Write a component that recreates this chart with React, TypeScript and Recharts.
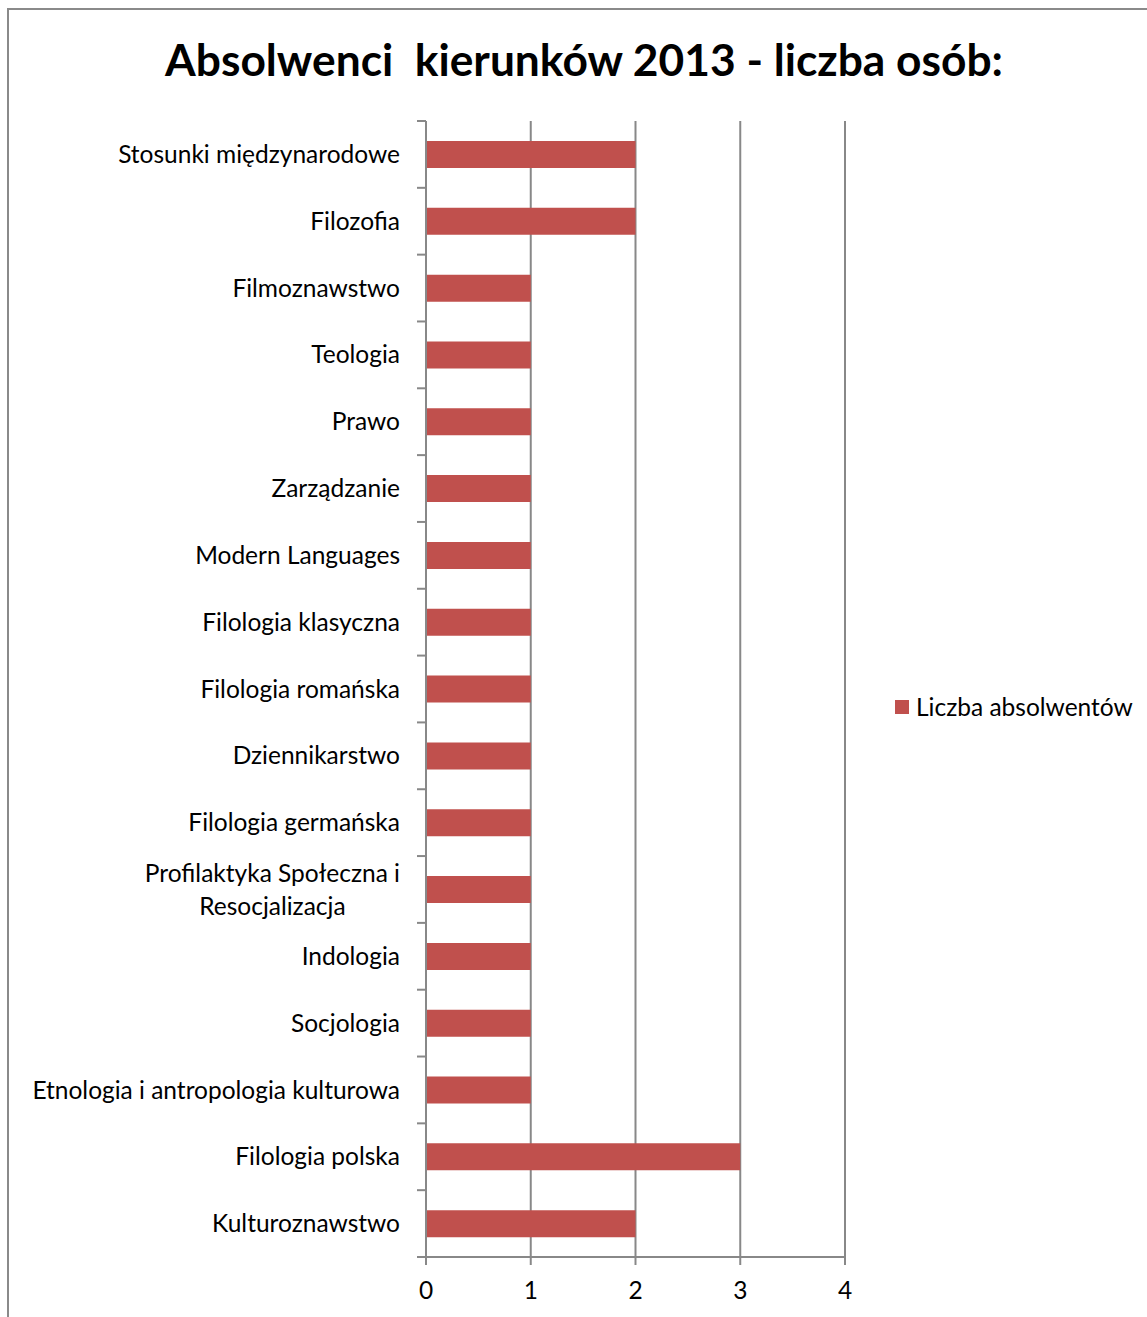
import { BarChart, Bar, XAxis, YAxis, CartesianGrid } from "recharts";

const categories = [
  "Stosunki międzynarodowe",
  "Filozofia",
  "Filmoznawstwo",
  "Teologia",
  "Prawo",
  "Zarządzanie",
  "Modern Languages",
  "Filologia klasyczna",
  "Filologia romańska",
  "Dziennikarstwo",
  "Filologia germańska",
  "Profilaktyka Społeczna i Resocjalizacja",
  "Indologia",
  "Socjologia",
  "Etnologia i antropologia kulturowa",
  "Filologia polska",
  "Kulturoznawstwo",
];
const graduates = [2, 2, 1, 1, 1, 1, 1, 1, 1, 1, 1, 1, 1, 1, 1, 3, 2];
const xTicks = [0, 1, 2, 3, 4];
const seriesName = "Liczba absolwentów";
const title = "Absolwenci  kierunków 2013 - liczba osób:";

const data = categories.map((name, i) => ({ name, value: graduates[i] }));

const FONT = "Lato, 'Open Sans', sans-serif";
const FS = 24.5;
const GRAY = "#888888";
const RED = "#C0504D";

const W = 1147;
const H = 1317;
const PLOT_TOP = 121;
const PLOT_BOTTOM = 1257;
const PLOT_LEFT = 426;
const PLOT_RIGHT = 845;
const BAND = (PLOT_BOTTOM - PLOT_TOP) / categories.length;

let ctx: CanvasRenderingContext2D | null = null;
const measure = (s: string) => {
  if (!ctx) ctx = document.createElement("canvas").getContext("2d");
  if (!ctx) return s.length * 11;
  ctx.font = `${FS}px ${FONT}`;
  return ctx.measureText(s).width;
};

// category label + boundary tick marks
const CategoryTick = (props: any) => {
  const { y, payload, index } = props;
  const label: string = payload.value;
  const textX = PLOT_LEFT - 26;
  let text;
  if (label.startsWith("Profilaktyka")) {
    const l1 = "Profilaktyka Społeczna i";
    const l2 = "Resocjalizacja";
    const w1 = measure(l1);
    const mid = textX - w1 / 2;
    text = (
      <text fontSize={FS} fontFamily={FONT} fill="#000">
        <tspan x={textX} y={y - 16.5} dy="0.35em" textAnchor="end">{l1}</tspan>
        <tspan x={mid} y={y + 16.5} dy="0.35em" textAnchor="middle">{l2}</tspan>
      </text>
    );
  } else {
    text = (
      <text x={textX} y={y} dy="0.35em" textAnchor="end" fontSize={FS} fontFamily={FONT} fill="#000">
        {label}
      </text>
    );
  }
  return (
    <g>
      <line x1={PLOT_LEFT - 9} x2={PLOT_LEFT} y1={y - BAND / 2} y2={y - BAND / 2} stroke={GRAY} strokeWidth={2} />
      {index === categories.length - 1 && (
        <line x1={PLOT_LEFT - 9} x2={PLOT_LEFT} y1={y + BAND / 2} y2={y + BAND / 2} stroke={GRAY} strokeWidth={2} />
      )}
      {text}
    </g>
  );
};

export default function App() {
  return (
    <div style={{ position: "absolute", left: 0, top: 0, width: W, height: H, overflow: "hidden", background: "#fff" }}>
      {/* chart frame */}
      <div
        style={{
          position: "absolute",
          left: 7,
          top: 8,
          width: 1300,
          height: 1400,
          borderLeft: "2px solid #8a8a8a",
          borderTop: "2px solid #8a8a8a",
        }}
      />
      <div
        style={{
          position: "absolute",
          left: 0,
          width: 1168,
          top: 31,
          textAlign: "center",
          fontFamily: FONT,
          fontWeight: 700,
          fontSize: 44.3,
          lineHeight: "56px",
          whiteSpace: "pre",
          color: "#000",
        }}
      >
        {title}
      </div>

      {/* Legend */}
      <div
        style={{
          position: "absolute",
          left: 895,
          top: 692,
          display: "flex",
          alignItems: "center",
          fontFamily: FONT,
          fontSize: FS,
          lineHeight: "30px",
          color: "#000",
        }}
      >
        <span style={{ width: 14, height: 14, background: RED, display: "inline-block", marginRight: 7 }} />
        <span>{seriesName}</span>
      </div>

      <div style={{ position: "absolute", left: 0, top: 0 }}>
        <BarChart
          width={W}
          height={H}
          data={data}
          layout="vertical"
          margin={{ top: PLOT_TOP, right: W - PLOT_RIGHT, left: 0, bottom: 0 }}
        >
          <CartesianGrid horizontal={false} stroke={GRAY} strokeWidth={2} />
          <XAxis
            type="number"
            domain={[0, 4]}
            ticks={xTicks}
            height={H - PLOT_BOTTOM}
            stroke={GRAY}
            strokeWidth={2}
            tickSize={8}
            tickMargin={17}
            tick={{ fill: "#000", fontSize: FS, fontFamily: FONT }}
            interval={0}
          />
          <YAxis
            type="category"
            dataKey="name"
            width={PLOT_LEFT}
            stroke={GRAY}
            strokeWidth={2}
            tickLine={false}
            tick={<CategoryTick />}
            interval={0}
          />
          <Bar dataKey="value" fill={RED} barSize={27} isAnimationActive={false} />
        </BarChart>
      </div>
    </div>
  );
}
